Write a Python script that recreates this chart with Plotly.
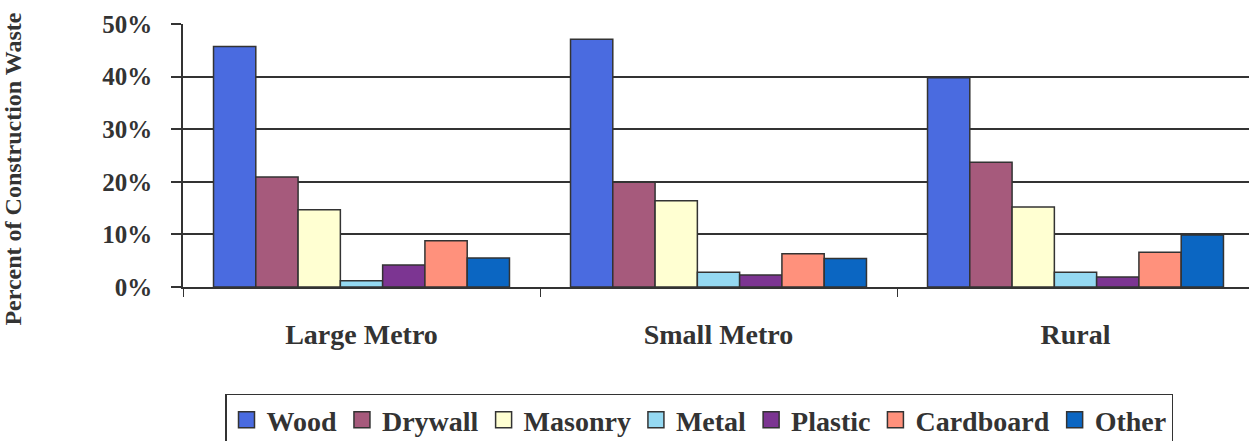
import plotly.graph_objects as go

# Share of construction waste by material, per region type
regions = ["Large Metro", "Small Metro", "Rural"]
materials = ["Wood", "Drywall", "Masonry", "Metal", "Plastic", "Cardboard", "Other"]

wood = [45.7, 47.1, 39.8]
drywall = [20.9, 19.9, 23.7]
masonry = [14.7, 16.4, 15.2]
metal = [1.2, 2.8, 2.8]
plastic = [4.2, 2.3, 1.9]
cardboard = [8.8, 6.3, 6.6]
other = [5.5, 5.4, 9.9]

series = [wood, drywall, masonry, metal, plastic, cardboard, other]
colors = ["#4a6be0", "#a65a7c", "#ffffd2", "#95d9f2", "#7c3592", "#ff917c", "#0b66c2"]

y_ticks = [0, 10, 20, 30, 40, 50]
y_tick_text = [f"<b>{v}%</b>" for v in y_ticks]
region_text = [f"<b>{r}</b>" for r in regions]

FONT = "Liberation Serif, Times New Roman, serif"
INK = "#333333"

fig = go.Figure()
for name, vals, col in zip(materials, series, colors):
    fig.add_trace(go.Bar(
        x=regions, y=vals, name=name,
        marker=dict(color=col, line=dict(color=INK, width=1.5)),
        showlegend=False,
    ))
    # legend swatch (larger square than the default bar symbol)
    fig.add_trace(go.Scatter(
        x=[None], y=[None], mode="markers", name=f"<b>{name}</b>",
        marker=dict(symbol="square", size=19, color=col,
                    line=dict(color=INK, width=1.5)),
    ))

fig.update_layout(
    width=1249, height=441,
    margin=dict(l=183, r=0, t=24, b=154, autoexpand=False),
    paper_bgcolor="white", plot_bgcolor="white",
    barmode="group", bargap=0.171, bargroupgap=0,
    font=dict(family=FONT, color=INK),
    showlegend=True,
    legend=dict(
        orientation="h", x=0.0394, xanchor="left", y=-0.405, yanchor="top",
        bordercolor=INK, borderwidth=1.5,
        font=dict(family=FONT, size=28, color=INK),
        itemwidth=30, tracegroupgap=0,
    ),
    annotations=[dict(
        text="<b>Percent of Construction Waste</b>",
        xref="paper", yref="paper", x=-0.1595, y=0.45,
        xanchor="center", yanchor="middle", textangle=-90, showarrow=False,
        font=dict(family=FONT, size=24, color=INK),
    )],
)

fig.update_xaxes(
    range=[-0.5, 2.486], tickvals=regions, ticktext=region_text,
    showline=True, linecolor=INK, linewidth=1.5,
    ticks="outside", tickson="boundaries", ticklen=8, tickcolor=INK, tickwidth=1,
    ticklabelstandoff=22,
    tickfont=dict(family=FONT, size=28, color=INK),
    showgrid=False, zeroline=False,
)
fig.update_yaxes(
    range=[0, 50], tickvals=y_ticks, ticktext=y_tick_text,
    showline=True, linecolor=INK, linewidth=1.5,
    ticks="outside", ticklen=10, tickcolor=INK, tickwidth=1.5,
    ticklabelstandoff=14,
    tickfont=dict(family=FONT, size=25, color=INK),
    showgrid=True, gridcolor=INK, gridwidth=1.5, zeroline=False,
)

fig.write_html("out.html")
